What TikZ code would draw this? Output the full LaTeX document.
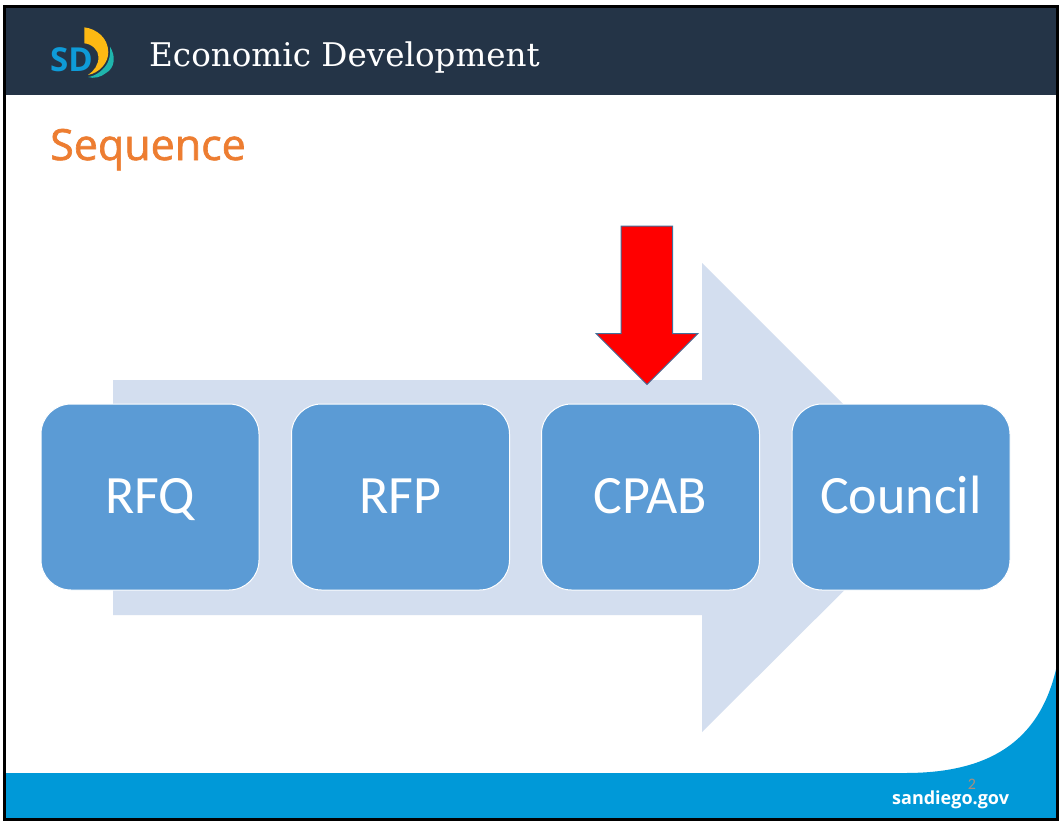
\documentclass[tikz,border=0pt]{standalone}
\usepackage{fontspec}
\setmainfont{Open Sans}
\newfontfamily\carlito{Carlito}
\newfontfamily\titlefont{DejaVu Serif}
\newfontfamily\seqfont[FakeBold=1.5]{Open Sans}
\definecolor{headbg}{HTML}{243447}
\definecolor{seqor}{HTML}{ED7D31}
\definecolor{boxblue}{HTML}{5B9BD5}
\definecolor{arrowbg}{HTML}{D3DEEF}
\definecolor{footblue}{HTML}{0099D8}
\definecolor{redstroke}{HTML}{41719C}
\definecolor{logoblue}{HTML}{0E9BD8}
\definecolor{logoteal}{HTML}{1FB5AD}
\definecolor{logoyel}{HTML}{FDB913}
\definecolor{numcol}{HTML}{A98E7C}
\tikzset{
  stepbox/.style={draw=white, line width=1pt, fill=boxblue, rounded corners=30pt, minimum width=218pt, minimum height=186pt, inner sep=0pt, text=white, text height=32pt, text depth=0pt, font=\carlito\fontsize{54}{60}\selectfont},
}
\begin{document}
\begin{tikzpicture}[x=1pt,y=-1pt]
\useasboundingbox (0,0) rectangle (1061,820);
\fill[white] (0,0) rectangle (1061,820);
% header
\fill[headbg] (4,7) rectangle (1057,95);
% footer
\fill[footblue] (4,773) -- (905,773) .. controls (985,773) and (1040,745) .. (1057,665) -- (1057,819) -- (4,819) -- cycle;
% logo
\fill[logoteal] (110,46.7) .. controls (116,56) and (115,68) .. (106,73) .. controls (101,77) and (94,79) .. (88,77) .. controls (96,76) and (104,70) .. (108,62) .. controls (110,57) and (110.5,52) .. (110,46.7) -- cycle;
\fill[logoyel] (84.3,27.3) .. controls (97,29) and (108,38) .. (108.3,52) .. controls (108.5,63) and (99,73) .. (88,75) .. controls (94,71) and (98.5,65) .. (98.5,57) .. controls (98.5,50) and (92,44) .. (84.3,43.3) -- cycle;
\node[font=\bfseries\fontsize{33}{36}\selectfont, text=logoblue, inner sep=0pt, anchor=base west] (logo) at (50,71.5) {SD};
% texts
\node[font=\titlefont\fontsize{32.6}{36}\selectfont, text=white, inner sep=0pt, anchor=base west] (title) at (149,66) {Economic Development};
\node[font=\seqfont\fontsize{43}{48}\selectfont, text=seqor, inner sep=0pt, anchor=base west] (seq) at (50,160) {Sequence};
% big arrow
\fill[arrowbg] (113,380) -- (702,380) -- (702,263) -- (937,498) -- (702,732) -- (702,615) -- (113,615) -- cycle;
% boxes
\node[stepbox] (rfq) at (150,497) {RFQ};
\node[stepbox] (rfp) at (400.5,497) {RFP};
\node[stepbox] (cpab) at (650.5,497) {CPAB};
\node[stepbox] (council) at (901,497) {Council};
% red arrow
\draw[fill=red, draw=redstroke, line width=1pt] (621,226) -- (672.5,226) -- (672.5,333.5) -- (698,333.5) -- (647,384.5) -- (596,333.5) -- (621,333.5) -- cycle;
% footer text
\node[font=\carlito\fontsize{16}{18}\selectfont, text=numcol, inner sep=0pt, anchor=base] (num) at (972,789) {2};
\node[font=\bfseries\fontsize{18}{22}\selectfont, text=white, inner sep=0pt, anchor=base west] (site) at (892,804) {sandiego.gov};
% frame
\draw[black, line width=3pt] (4.5,6.5) rectangle (1057,819);
\end{tikzpicture}
\end{document}
